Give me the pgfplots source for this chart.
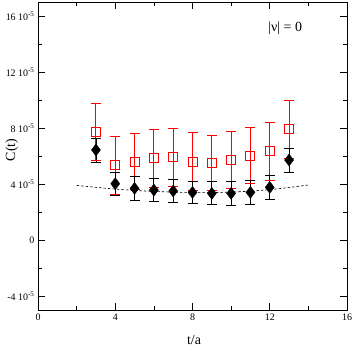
\documentclass[border=0pt]{standalone}
\usepackage{pgfplots}
\pgfplotsset{compat=1.18}
\usepackage{fontspec}
\setmainfont{Liberation Serif}
\definecolor{errred}{RGB}{255,0,0}

\begin{document}
\begin{tikzpicture}
\useasboundingbox (0,0) rectangle (354bp,354bp);
\begin{axis}[
    at={(38bp,44bp)}, anchor=south west,
    scale only axis,
    width=309bp, height=308bp,
    xmin=0, xmax=16,
    ymin=-5, ymax=17,
    xtick={0,4,8,12,16},
    minor xtick={2,6,10,14},
    ytick={-4,0,4,8,12,16},
    minor ytick={-2,2,6,10,14},
    yticklabels={-4 10\textsuperscript{-5},0,4 10\textsuperscript{-5},8 10\textsuperscript{-5},12 10\textsuperscript{-5},16 10\textsuperscript{-5}},
    /pgf/number format/assume math mode=true,
    tick label style={font=\fontsize{10}{12}\selectfont},
    major tick length=7bp, minor tick length=4bp,
    tick style={black, line width=0.7bp},
    axis line style={line width=0.9bp},
    xlabel={t/a},
    ylabel={C(t)},
    label style={font=\fontsize{14}{16}\selectfont},
    xlabel style={at={(axis description cs:0.505,-0.097)}, anchor=center},
    ylabel style={at={(axis description cs:-0.085,0.52)}, anchor=center},
    unbounded coords=jump,
    clip=false,
]
% red error bars: (t, low) (t, high), broken by nan
\addplot[errred, line width=0.9bp, mark=-, mark size=5bp,
    mark options={solid, line width=0.9bp}] coordinates {
    (3,5.66) (3,9.76) (3,nan)
    (4,3.28) (4,7.38) (4,nan)
    (5,3.58) (5,7.62) (5,nan)
    (6,3.78) (6,7.88) (6,nan)
    (7,3.85) (7,7.95) (7,nan)
    (8,3.53) (8,7.67) (8,nan)
    (9,3.55) (9,7.49) (9,nan)
    (10,3.67) (10,7.75) (10,nan)
    (11,4.02) (11,8.02) (11,nan)
    (12,4.28) (12,8.38) (12,nan)
    (13,5.85) (13,9.95)
};
\addplot[errred, only marks, mark=square, mark size=4.5bp,
    mark options={solid, fill=white, line width=1bp}] coordinates {
    (3,7.71) (4,5.33) (5,5.60) (6,5.83) (7,5.90) (8,5.60)
    (9,5.52) (10,5.71) (11,6.02) (12,6.33) (13,7.90)
};
\addplot[black, line width=0.6bp, smooth, dash pattern=on 2.5bp off 2bp] coordinates {
    (2,3.90) (3,3.76) (4,3.64) (5,3.54) (6,3.47) (7,3.42) (8,3.39)
    (9,3.39) (10,3.42) (11,3.49) (12,3.60) (13,3.75) (14,3.93)
};
% black error bars
\addplot[black, line width=0.8bp, mark=-, mark size=5bp,
    mark options={solid, line width=0.8bp}] coordinates {
    (3,5.57) (3,7.29) (3,nan)
    (4,3.18) (4,4.86) (4,nan)
    (5,2.86) (5,4.52) (5,nan)
    (6,2.73) (6,4.41) (6,nan)
    (7,2.67) (7,4.33) (7,nan)
    (8,2.58) (8,4.22) (8,nan)
    (9,2.51) (9,4.15) (9,nan)
    (10,2.50) (10,4.16) (10,nan)
    (11,2.56) (11,4.24) (11,nan)
    (12,2.91) (12,4.61) (12,nan)
    (13,4.86) (13,6.56)
};
\addplot[black, only marks, mark=diamond*, mark size=6bp] coordinates {
    (3,6.43) (4,4.02) (5,3.69) (6,3.57) (7,3.50) (8,3.40)
    (9,3.33) (10,3.33) (11,3.40) (12,3.76) (13,5.71)
};
\node[font=\fontsize{14}{16}\selectfont, anchor=center] at (axis description cs:0.80,0.915) {|ν| = 0};
\end{axis}
\end{tikzpicture}
\end{document}
